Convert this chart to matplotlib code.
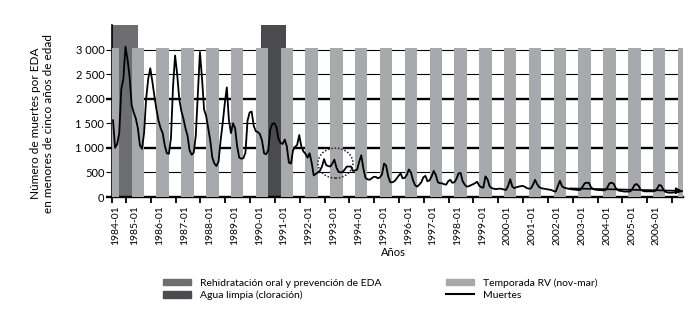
import numpy as np
import matplotlib
matplotlib.use("Agg")
import matplotlib.pyplot as plt
from matplotlib.patches import Rectangle, Ellipse
from matplotlib.lines import Line2D

plt.rcParams['font.family'] = ['Lato', 'DejaVu Sans']

# monthly deaths (EDA, <5 years), 1984-01 .. 2006-12
deaths = {
    1984: [1560, 1000, 1080, 1300, 2200, 2400, 3060, 2800, 2450, 1870, 1720, 1600],
    1985: [1400, 1050, 980, 1300, 2000, 2400, 2620, 2350, 2050, 1780, 1550, 1400],
    1986: [1300, 1050, 890, 880, 1200, 2250, 2880, 2500, 2000, 1750, 1600, 1400],
    1987: [1250, 950, 860, 900, 1250, 2100, 2950, 2420, 1780, 1650, 1400, 1150],
    1988: [800, 680, 630, 720, 1150, 1500, 1900, 2230, 1570, 1300, 1500, 1400],
    1989: [1030, 800, 780, 790, 900, 1550, 1720, 1740, 1450, 1340, 1320, 1280],
    1990: [1150, 890, 870, 950, 1370, 1490, 1500, 1420, 1180, 1100, 1080, 1170],
    1991: [1030, 700, 680, 950, 1020, 1060, 1260, 1030, 930, 880, 800, 890],
    1992: [700, 440, 470, 500, 540, 620, 770, 650, 630, 620, 680, 760],
    1993: [600, 510, 500, 510, 560, 620, 620, 620, 530, 540, 560, 720],
    1994: [850, 580, 390, 360, 350, 380, 410, 410, 380, 400, 460, 680],
    1995: [640, 420, 300, 300, 320, 370, 430, 480, 380, 390, 450, 560],
    1996: [500, 340, 240, 210, 250, 300, 400, 430, 320, 340, 420, 530],
    1997: [450, 300, 280, 280, 260, 250, 320, 350, 290, 300, 370, 480],
    1998: [490, 320, 250, 210, 220, 240, 260, 280, 310, 230, 200, 190],
    1999: [420, 360, 220, 180, 170, 160, 165, 170, 165, 150, 145, 230],
    2000: [360, 210, 180, 200, 210, 220, 225, 210, 180, 170, 175, 250],
    2001: [350, 260, 200, 180, 170, 165, 155, 150, 140, 120, 110, 220],
    2002: [330, 220, 190, 180, 170, 160, 155, 150, 145, 140, 150, 210],
    2003: [280, 290, 290, 200, 165, 150, 145, 140, 140, 135, 140, 200],
    2004: [280, 290, 270, 180, 140, 125, 120, 112, 110, 110, 115, 160],
    2005: [240, 265, 230, 150, 125, 115, 115, 115, 115, 115, 125, 170],
    2006: [245, 230, 150, 105, 92, 88, 88, 92, 100, 105, 110, 120],
}

# interventions (start, end) in decimal years
rehidratacion = (1984.0, 1985.05)
agua_limpia = (1990.0, 1991.0)
# RV season (nov-mar), drawn as it appears on the chart
rv_years = list(range(1983, 2007))
rv_start, rv_end = 0.79, 1.29

# trend arrow and highlighted circle
arrow_from = (2002.44, 175)
arrow_to = (2006.98, 125)
circle_center = (1993.0, 690)

y_ticks = [0, 500, 1000, 1500, 2000, 2500, 3000]
y_labels = ['0', '500', '1 000', '1 500', '2 000', '2 500', '3 000']
x_labels = ['1984-01', '1985-01', '1986-01', '1987-01', '1988-01', '1989-01',
            '1990-01', '1991-01', '1992-01', '1993-01', '1994-01', '1995-01',
            '1996-01', '1997-01', '1998-01', '1999-01', '2000-01', '2001-01',
            '2002-01', '2003-01', '2004-01', '2005-01', '2006-01']

c_rehid = '#6e6e70'
c_agua = '#4b4b4d'
c_rv = '#a8a9ac'

years = sorted(deaths)
values = np.concatenate([deaths[y] for y in years])
t = years[0] + (np.arange(len(values)) + 0.5) / 12.0

fig = plt.figure(figsize=(7, 3.2), dpi=100)
ax = fig.add_axes([112/700, 1-197/320, 571/700, 172/320])
ax.set_xlim(1984.0, 2007.0)
ax.set_ylim(0, 3500)

# grid
for v in y_ticks[1:]:
    ax.axhline(v, color='k', lw=1.7 if v in (1000, 2000) else 0.8, zorder=1)

# intervention bars
ax.bar(rehidratacion[0], 3500, width=rehidratacion[1]-rehidratacion[0],
       align='edge', color=c_rehid, zorder=2)
ax.bar(agua_limpia[0], 3500, width=agua_limpia[1]-agua_limpia[0],
       align='edge', color=c_agua, zorder=2)
# RV seasons
for y in rv_years:
    ax.bar(y + rv_start, 3040, width=rv_end-rv_start, align='edge',
           color=c_rv, zorder=3)

ax.plot(t, values, color='k', lw=1.3, zorder=4)

ax.annotate('', xy=arrow_to, xytext=arrow_from,
            arrowprops=dict(arrowstyle='-|>', color='k', lw=1.2,
                            mutation_scale=9, shrinkA=0, shrinkB=0), zorder=5)
ax.add_patch(Ellipse(circle_center, 1.41, 610, fill=False, ls=(0, (1, 1.2)),
                     lw=1.1, ec='#222222', zorder=5))

# axes
for s in ('top', 'right'):
    ax.spines[s].set_visible(False)
ax.spines['left'].set_linewidth(1.2)
ax.spines['bottom'].set_linewidth(1.7)

ax.set_yticks(y_ticks)
ax.set_yticklabels(y_labels, fontsize=8)
ax.tick_params(axis='y', length=4, width=0.8, pad=1.5)
for tk, v in zip(ax.yaxis.get_major_ticks(), y_ticks):
    if v in (0, 1000, 2000):
        tk.tick1line.set_markeredgewidth(1.7)

tick_pos = [1984.0] + [1984.56 + k for k in range(23)]
ax.set_xticks(tick_pos)
ax.set_xticklabels([])
ax.tick_params(axis='x', which='major', length=4, width=1.3)
label_pos = [1984.15] + [1984.93 + k for k in range(22)]
ax.set_xticks(label_pos, minor=True)
ax.set_xticklabels(x_labels, minor=True, rotation=90, fontsize=7.5)
ax.tick_params(axis='x', which='minor', length=0, pad=6)

ax.set_ylabel('Número de muertes por EDA\nen menores de cinco años de edad',
              fontsize=8.5, linespacing=1.15)
ax.yaxis.set_label_coords(-0.102, 1500/3500)
ax.set_xlabel('Años', fontsize=8)
ax.xaxis.set_label_coords(0.492, -0.29)

handles = [Rectangle((0, 0), 1, 1, color=c_rehid),
           Rectangle((0, 0), 1, 1, color=c_agua),
           Rectangle((0, 0), 1, 1, color=c_rv),
           Line2D([], [], color='k', lw=1.5)]
labels = ['Rehidratación oral y prevención de EDA', 'Agua limpia (cloración)',
          'Temporada RV (nov-mar)', 'Muertes']
fig.legend(handles, labels, loc='upper left', bbox_to_anchor=(163/700, 1-278/320),
           ncol=2, frameon=False, fontsize=7.5, handlelength=2.7,
           handleheight=0.6, handletextpad=0.9, columnspacing=6.1,
           labelspacing=0.3, borderpad=0, borderaxespad=0)

fig.savefig('out.png', dpi=100)
